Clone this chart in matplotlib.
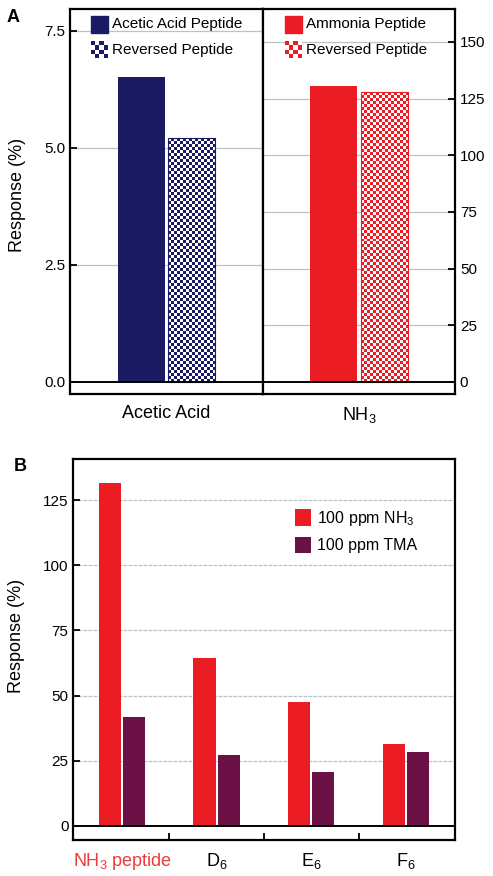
import numpy as np
import matplotlib
matplotlib.use("Agg")
import matplotlib.pyplot as plt
from matplotlib.colors import ListedColormap
from matplotlib.patches import Rectangle

plt.rcParams["font.family"] = ["Liberation Sans", "DejaVu Sans"]
plt.rcParams["mathtext.fontset"] = "custom"
plt.rcParams["mathtext.rm"] = "Liberation Sans"

# panel A data
acetic_labels = ["Acetic Acid Peptide", "Reversed Peptide"]
acetic_vals = [6.51, 5.21]
ammonia_labels = ["Ammonia Peptide", "Reversed Peptide"]
ammonia_vals = [130.6, 127.7]

# panel B data
peptides = ["NH$_3$ peptide", "D$_6$", "E$_6$", "F$_6$"]
nh3_vals = [131.5, 64.3, 47.5, 31.5]
tma_vals = [41.7, 27.1, 20.6, 28.4]
gas_labels = ["100 ppm NH$_3$", "100 ppm TMA"]

navy = "#1b1b64"
red = "#ec1c24"
purple = "#6b1145"
gridc = "#b9c1c9"

W, H = 493, 876
fig = plt.figure(figsize=(W / 100, H / 100), dpi=100)


def rect(x0, x1, y0, y1):
    return [x0 / W, 1 - y1 / H, (x1 - x0) / W, (y1 - y0) / H]


def checker(ax, x, y, w, h, color, cell=3.0, transform=None, zorder=2):
    # checkerboard fill sized in pixels
    if transform is None:
        p0 = ax.transData.transform((x, y))
        p1 = ax.transData.transform((x + w, y + h))
    else:
        p0 = transform.transform((x, y))
        p1 = transform.transform((x + w, y + h))
    nx = max(1, int(round(abs(p1[0] - p0[0]) / cell)))
    ny = max(1, int(round(abs(p1[1] - p0[1]) / cell)))
    arr = (np.add.outer(np.arange(ny), np.arange(nx)) % 2).astype(float)
    kw = {}
    if transform is not None:
        kw["transform"] = transform
    ax.imshow(arr, extent=(x, x + w, y, y + h), origin="lower", aspect="auto",
              interpolation="nearest", cmap=ListedColormap(["white", color]),
              vmin=0, vmax=1, zorder=zorder, **kw)


def style_frame(ax):
    for s in ax.spines.values():
        s.set_linewidth(1.6)
    ax.tick_params(direction="in", width=1.3, length=5, labelsize=11)


# ---------- panel A ----------
axL = fig.add_axes(rect(70, 263, 9, 394))
axR = fig.add_axes(rect(263, 455, 9, 394))
limL = (-0.26, 7.97)
limR = (-5.3, 164.5)
for ax, lim in ((axL, limL), (axR, limR)):
    ax.set_xlim(-1, 1)
    ax.set_ylim(*lim)
    style_frame(ax)

offs = [-0.262, 0.262]
bw = 0.49

for ax, vals, color, labels, lim, yt in (
    (axL, acetic_vals, navy, acetic_labels, limL, [2.5, 5.0, 7.5]),
    (axR, ammonia_vals, red, ammonia_labels, limR, [25, 50, 75, 100, 125, 150]),
):
    for t in yt:
        ax.axhline(t, color=gridc, lw=0.9, zorder=0)
    ax.axhline(0, color="black", lw=1.4, zorder=4)
    ax.bar(offs[0], vals[0], width=bw, color=color, zorder=2)
    ax.bar(offs[1], vals[1], width=bw, facecolor="none", edgecolor=color,
           lw=0.8, zorder=3)
    checker(ax, offs[1] - bw / 2, 0, bw, vals[1], color)
    ax.set_xlim(-1, 1)
    ax.set_ylim(*lim)

    # legend drawn by hand (checkered swatch)
    ax.add_patch(Rectangle((0.11 if ax is axL else 0.115, 0.938), 0.087, 0.044,
                           transform=ax.transAxes, color=color, zorder=5))
    x0 = 0.11 if ax is axL else 0.115
    checker(ax, x0, 0.872, 0.087, 0.044, color, cell=4.0,
            transform=ax.transAxes, zorder=5)
    ax.text(x0 + 0.108, 0.96, labels[0], transform=ax.transAxes,
            fontsize=11, va="center", ha="left")
    ax.text(x0 + 0.108, 0.894, labels[1], transform=ax.transAxes,
            fontsize=11, va="center", ha="left")
    ax.set_xlim(-1, 1)
    ax.set_ylim(*lim)

axL.set_yticks([0, 2.5, 5.0, 7.5])
axL.set_yticklabels(["0.0", "2.5", "5.0", "7.5"])
axR.yaxis.tick_right()
axR.set_yticks([0, 25, 50, 75, 100, 125, 150])
axL.set_xticks([0])
axL.set_xticklabels(["Acetic Acid"], fontsize=13)
axR.set_xticks([0])
axR.set_xticklabels(["NH$_3$"], fontsize=13)
for ax in (axL, axR):
    ax.tick_params(axis="x", length=0, pad=8)

fig.text(18 / W, 1 - 195 / H, "Response (%)", rotation=90, ha="center",
         va="center", fontsize=13)
fig.text(13 / W, 1 - 18 / H, "A", ha="center", va="center", fontsize=13,
         fontweight="bold")

# ---------- panel B ----------
axB = fig.add_axes(rect(73.3, 455, 459, 840))
style_frame(axB)
x = np.arange(len(peptides))
for t in [25, 50, 75, 100, 125]:
    axB.axhline(t, color=gridc, lw=0.9, ls=(0, (3, 1)), zorder=0)
axB.axhline(0, color="black", lw=1.4, zorder=4)
axB.bar(x - 0.128, nh3_vals, width=0.235, color=red, label=gas_labels[0],
        zorder=2)
axB.bar(x + 0.128, tma_vals, width=0.235, color=purple, label=gas_labels[1],
        zorder=2)
axB.set_xlim(-0.515, 3.52)
axB.set_ylim(-5.4, 140.8)
axB.set_yticks([0, 25, 50, 75, 100, 125])
axB.set_xticks(x)
axB.set_xticklabels(peptides, fontsize=13)
axB.get_xticklabels()[0].set_color("#ee3b3b")
axB.set_xticks(x[:-1] + 0.5, minor=True)
axB.tick_params(axis="x", which="major", length=0, pad=8)
axB.tick_params(axis="x", which="minor", direction="in", length=5, width=1.3)
axB.legend(loc="upper left", bbox_to_anchor=(0.56, 0.89), frameon=False,
           fontsize=11.5, handlelength=1.0, handleheight=1.2, handletextpad=0.4,
           labelspacing=0.55, borderpad=0)

fig.text(17 / W, 1 - 636 / H, "Response (%)", rotation=90, ha="center",
         va="center", fontsize=13)
fig.text(20 / W, 1 - 466 / H, "B", ha="center", va="center", fontsize=13,
         fontweight="bold")

fig.savefig("out.png", dpi=100)
